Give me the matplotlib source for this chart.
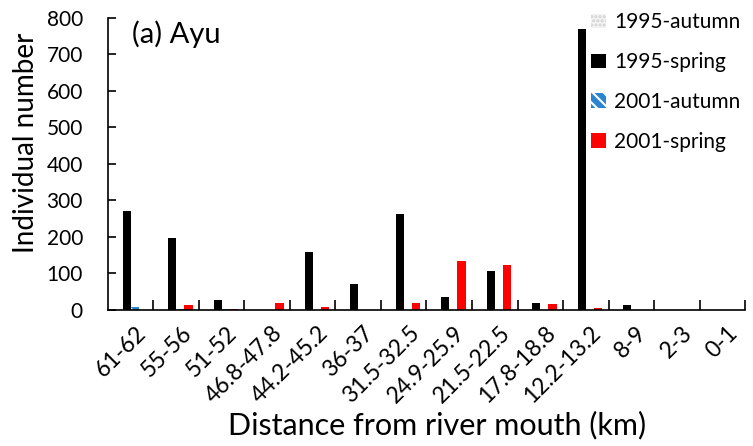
import numpy as np
import matplotlib
matplotlib.use('Agg')
import matplotlib.pyplot as plt

plt.rcParams['font.family'] = ['Lato', 'DejaVu Sans']
plt.rcParams['hatch.linewidth'] = 1.5

sites = ['61-62', '55-56', '51-52', '46.8-47.8', '44.2-45.2', '36-37', '31.5-32.5',
         '24.9-25.9', '21.5-22.5', '17.8-18.8', '12.2-13.2', '8-9', '2-3', '0-1']
autumn_1995 = [2, 2, 0, 0, 0, 0, 0, 0, 0, 0, 0, 0, 0, 0]
spring_1995 = [271, 197, 27, 0, 160, 71, 263, 36, 108, 19, 769, 14, 1, 0]
autumn_2001 = [8, 2, 4, 0, 1, 0, 1, 0, 1, 0, 1, 0, 0, 0]
spring_2001 = [0, 13, 2, 19, 8, 1, 19, 134, 123, 15, 5, 0, 0, 0]

fig = plt.figure(figsize=(7.53, 4.46), dpi=100)
ax = fig.add_axes([0.1434, 0.305, 0.846, 0.655])

x = np.arange(len(sites))
w = 0.18
ax.bar(x - 1.5 * w, autumn_1995, w, color='#f4f4f4', edgecolor='#d0d0d0',
       hatch='....', linewidth=0, label='1995-autumn')
ax.bar(x - 0.5 * w, spring_1995, w, color='black', label='1995-spring')
ax.bar(x + 0.5 * w, autumn_2001, w, color='#2a84d2', edgecolor='white',
       hatch='\\\\\\', linewidth=0, label='2001-autumn')
ax.bar(x + 1.5 * w, spring_2001, w, color='#ff0000', label='2001-spring')

ax.set_xlim(-0.5, len(sites) - 0.5)
ax.set_ylim(0, 800)
ax.set_yticks(np.arange(0, 801, 100))

# group borders carry the tick marks, labels sit at group centres
ax.set_xticks(np.arange(len(sites)) + 0.5)
ax.set_xticklabels([])
ax.set_xticks(x + 0.1, minor=True)
ax.set_xticklabels(sites, minor=True, rotation=45, ha='right', rotation_mode='anchor',
                   fontsize=16.5)
ax.tick_params(axis='x', which='major', direction='in', length=7, width=1.2)
ax.tick_params(axis='x', which='minor', length=0, pad=9)
ax.tick_params(axis='y', direction='in', length=6, width=1.2, labelsize=15, pad=18)

for s in ['top', 'right']:
    ax.spines[s].set_visible(False)
for s in ['left', 'bottom']:
    ax.spines[s].set_linewidth(1.2)

fig.text(26 / 753, 1 - 143 / 446, 'Individual number', rotation=90, fontsize=20,
         ha='center', va='center')
ax.set_xlabel('Distance from river mouth (km)', fontsize=22)
ax.xaxis.set_label_coords(0.516, -0.345)
ax.text(0.038, 0.99, '(a) Ayu', transform=ax.transAxes, fontsize=21, va='top')

ax.legend(loc='upper right', bbox_to_anchor=(751 / 753, 1 - 2 / 446),
          bbox_transform=fig.transFigure, frameon=False, fontsize=15, borderpad=0,
          handlelength=0.7, handleheight=0.7, handletextpad=0.4, labelspacing=0.95)

fig.savefig('out.png', dpi=100)
